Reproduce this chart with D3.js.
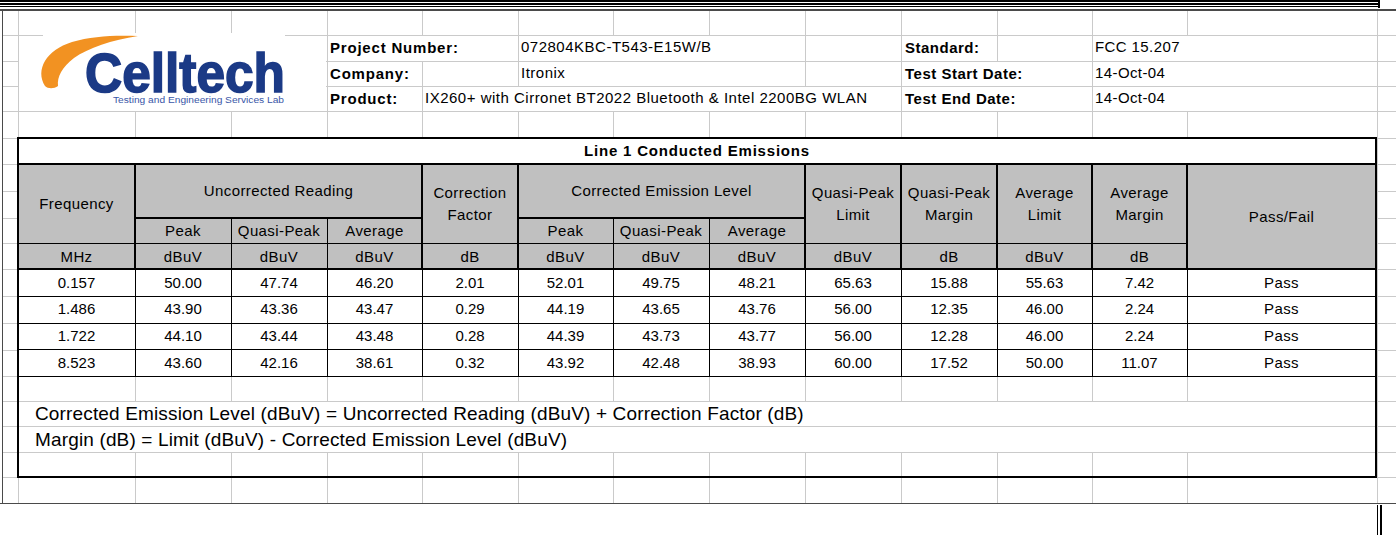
<!DOCTYPE html>
<html>
<head>
<meta charset="utf-8">
<script src="https://cdn.jsdelivr.net/npm/d3@7"></script>
<style>
  html, body { margin: 0; padding: 0; background: #fff; }
  svg { display: block; }
  text { font-family: Arial, 'Liberation Sans', sans-serif; fill: #000; }
</style>
</head>
<body>
<svg width="1396" height="535"></svg>
<script>
// ---- data ----
const frequency = [0.157, 1.486, 1.722, 8.523]
const uncorrPeak = [50.00, 43.90, 44.10, 43.60]
const uncorrQuasiPeak = [47.74, 43.36, 43.44, 42.16]
const uncorrAverage = [46.20, 43.47, 43.48, 38.61]
const correctionFactor = [2.01, 0.29, 0.28, 0.32]
const corrPeak = [52.01, 44.19, 44.39, 43.92]
const corrQuasiPeak = [49.75, 43.65, 43.73, 42.48]
const corrAverage = [48.21, 43.76, 43.77, 38.93]
const quasiPeakLimit = [65.63, 56.00, 56.00, 60.00]
const quasiPeakMargin = [15.88, 12.35, 12.28, 17.52]
const averageLimit = [55.63, 46.00, 46.00, 50.00]
const averageMargin = [7.42, 2.24, 2.24, 11.07]
const passFail = ['Pass', 'Pass', 'Pass', 'Pass']

const units = ['MHz', 'dBuV', 'dBuV', 'dBuV', 'dB', 'dBuV', 'dBuV', 'dBuV', 'dBuV', 'dB', 'dBuV', 'dB']
const subHeaders = ['Peak', 'Quasi-Peak', 'Average']

const infoLabelsLeft = ['Project Number:', 'Company:', 'Product:']
const infoValuesLeft = ['072804KBC-T543-E15W/B', 'Itronix', 'IX260+ with Cirronet BT2022 Bluetooth & Intel 2200BG WLAN']
const infoLabelsRight = ['Standard:', 'Test Start Date:', 'Test End Date:']
const infoValuesRight = ['FCC 15.207', '14-Oct-04', '14-Oct-04']

const tableTitle = 'Line 1 Conducted Emissions'
const formulas = [
  'Corrected Emission Level (dBuV) = Uncorrected Reading (dBuV) + Correction Factor (dB)',
  'Margin (dB) = Limit (dBuV) - Corrected Emission Level (dBuV)'
]

// ---- layout ----
const keys = ['freq', 'uPeak', 'uQp', 'uAvg', 'cf', 'cPeak', 'cQp', 'cAvg', 'qpLimit', 'qpMargin', 'avgLimit', 'avgMargin', 'pass']
const edges = [18, 135, 231, 327, 422, 518, 613, 709, 805, 901, 997, 1092, 1187, 1376]
const sheetCols = [18, 135, 231, 327, 422, 518, 613, 709, 805, 901, 997, 1092, 1187, 1377]
const sheetRows = [10, 35, 61, 86, 111, 138, 164, 191, 218, 243, 269, 296, 323, 350, 376, 401, 426, 452, 477, 503]

const x0 = d3.scaleOrdinal(keys, edges.slice(0, -1))
const x1 = d3.scaleOrdinal(keys, edges.slice(1))
const xc = k => (x0(k) + x1(k)) / 2

const y = d3.scaleBand().domain(d3.range(frequency.length)).range([269, 376])

const columns = [
  { key: 'freq', values: frequency, fmt: d3.format('.3f') },
  { key: 'uPeak', values: uncorrPeak, fmt: d3.format('.2f') },
  { key: 'uQp', values: uncorrQuasiPeak, fmt: d3.format('.2f') },
  { key: 'uAvg', values: uncorrAverage, fmt: d3.format('.2f') },
  { key: 'cf', values: correctionFactor, fmt: d3.format('.2f') },
  { key: 'cPeak', values: corrPeak, fmt: d3.format('.2f') },
  { key: 'cQp', values: corrQuasiPeak, fmt: d3.format('.2f') },
  { key: 'cAvg', values: corrAverage, fmt: d3.format('.2f') },
  { key: 'qpLimit', values: quasiPeakLimit, fmt: d3.format('.2f') },
  { key: 'qpMargin', values: quasiPeakMargin, fmt: d3.format('.2f') },
  { key: 'avgLimit', values: averageLimit, fmt: d3.format('.2f') },
  { key: 'avgMargin', values: averageMargin, fmt: d3.format('.2f') },
  { key: 'pass', values: passFail, fmt: d => d }
]

const svg = d3.select('svg')
const GRID = '#cacaca'

const line = (g, xa, ya, xb, yb, color, w) => g.append('line')
  .attr('x1', xa).attr('y1', ya).attr('x2', xb).attr('y2', yb)
  .attr('stroke', color).attr('stroke-width', w)

// ---- sheet grid ----
const grid = svg.append('g').attr('shape-rendering', 'crispEdges')

// horizontal rows in the info block and the bottom row
sheetRows.filter(r => r > 10 && r <= 138).forEach(r => line(grid, 2, r + 0.5, 1396, r + 0.5, GRID, 1))
sheetRows.filter(r => r > 138 && r < 503).forEach(r => {
  line(grid, 2, r + 0.5, 18, r + 0.5, GRID, 1)
  line(grid, 1377, r + 0.5, 1396, r + 0.5, GRID, 1)
})
line(grid, 2, 477.5, 1396, 477.5, GRID, 1)

// cells whose vertical line is hidden by overflowing text
const hidden = {
  35: [422, 613, 709, 1187],
  61: [613, 709, 997, 1187],
  86: [518, 613, 709, 805, 997, 1187]
}
sheetRows.slice(0, 5).forEach((r, i) => {
  const r2 = sheetRows[i + 1]
  sheetCols.forEach(c => {
    if ((hidden[r] || []).includes(c)) return
    line(grid, c + 0.5, r, c + 0.5, r2, GRID, 1)
  })
})
line(grid, 18.5, 138, 18.5, 503, GRID, 1)
line(grid, 1377.5, 138, 1377.5, 503, GRID, 1)
sheetCols.forEach(c => line(grid, c + 0.5, 477, c + 0.5, 503, GRID, 1))

// ---- page frame ----
const frame = svg.append('g').attr('shape-rendering', 'crispEdges')
;[1, 4, 6.5].forEach(yy => line(frame, 0, yy, 1380, yy, '#000', 1.3))
line(frame, 1379, 0, 1379, 8, '#000', 2)
line(frame, 0, 10, 1396, 10, '#4a4a4a', 1.5)
line(frame, 2.5, 10, 2.5, 503, '#4a4a4a', 1.5)
line(frame, 0, 503.5, 1396, 503.5, '#4a4a4a', 1.5)
line(frame, 1377.5, 505, 1377.5, 535, '#000', 1.5)
line(frame, 1381, 505, 1381, 535, '#000', 1.5)

// ---- logo ----
const logo = svg.append('g')
logo.append('rect').attr('x', 19).attr('y', 36).attr('width', 307).attr('height', 75).attr('fill', '#fff')
logo.append('rect').attr('x', 43).attr('y', 33).attr('width', 242).attr('height', 10).attr('fill', '#fff')
logo.append('path')
  .attr('d', 'M45,86 C35,70 46,50 72,42 C92,36 115,35 138,36 C112,40 88,48 74,58 C62,67 57,77 58,86 C54,89 48,89 45,86 Z')
  .attr('fill', '#f29222')
logo.append('text')
  .attr('x', 85).attr('y', 92)
  .attr('font-size', 55).attr('font-weight', 'bold')
  .attr('textLength', 200).attr('lengthAdjust', 'spacingAndGlyphs')
  .attr('stroke', '#1b3a86').attr('stroke-width', 1.6)
  .style('fill', '#1b3a86')
  .text('Celltech')
logo.append('text')
  .attr('x', 113).attr('y', 103)
  .attr('font-size', 8.5)
  .attr('textLength', 171).attr('lengthAdjust', 'spacingAndGlyphs')
  .style('fill', '#3a57a8')
  .text('Testing and Engineering Services Lab')

// ---- info block ----
const info = svg.append('g')
const infoRows = [48, 73.5, 98.5]
info.selectAll('.ll').data(infoLabelsLeft).enter().append('text')
  .attr('x', 330).attr('y', (d, i) => infoRows[i]).attr('dy', '0.35em')
  .attr('font-size', 15).attr('font-weight', 'bold').attr('letter-spacing', 0.8)
  .text(d => d)
info.selectAll('.lv').data(infoValuesLeft).enter().append('text')
  .attr('x', (d, i) => i === 2 ? 425 : 521).attr('y', (d, i) => infoRows[i] - 1).attr('dy', '0.35em')
  .attr('font-size', 15).attr('letter-spacing', 0.5)
  .text(d => d)
info.selectAll('.rl').data(infoLabelsRight).enter().append('text')
  .attr('x', 905).attr('y', (d, i) => infoRows[i]).attr('dy', '0.35em')
  .attr('font-size', 15).attr('font-weight', 'bold').attr('letter-spacing', 0.5)
  .text(d => d)
info.selectAll('.rv').data(infoValuesRight).enter().append('text')
  .attr('x', 1095).attr('y', (d, i) => infoRows[i] - 1).attr('dy', '0.35em')
  .attr('font-size', 15).attr('letter-spacing', 0.4)
  .text(d => d)

// ---- table ----
const table = svg.append('g')
const L = edges[0]
const R = edges[edges.length - 1]
table.append('rect').attr('x', L).attr('y', 138).attr('width', R - L).attr('height', 477 - 138).attr('fill', '#fff')
table.append('rect').attr('x', L).attr('y', 164).attr('width', R - L).attr('height', 269 - 164).attr('fill', '#c0c0c0')

const tl = table.append('g').attr('shape-rendering', 'crispEdges')

// empty rows inside the table keep the light sheet grid
;[401, 426, 452].forEach(r => line(tl, L, r + 0.5, R, r + 0.5, GRID, 1))
;[[376, 401], [452, 477]].forEach(([a, b]) => edges.slice(1, -1).forEach(c => line(tl, c + 0.5, a, c + 0.5, b, GRID, 1)))

// header rules
const groupEdges = [135, 422, 518, 805, 901, 997, 1092, 1187]
const subEdges = [231, 327, 613, 709]
line(tl, L, 243.5, 1187, 243.5, '#000', 1)
line(tl, 135, 218, 422, 218, '#000', 2)
line(tl, 518, 218, 805, 218, '#000', 2)
subEdges.forEach(c => line(tl, c + 0.5, 218, c + 0.5, 269, '#000', 1))
groupEdges.forEach(c => line(tl, c, 164, c, 269, '#000', 2))

// data rules
y.domain().forEach(i => line(tl, L, y(i) + y.bandwidth() + 0.5, R, y(i) + y.bandwidth() + 0.5, '#000', 1))
edges.slice(1, -1).forEach(c => line(tl, c + 0.5, 269, c + 0.5, 376, '#000', 1))

// heavy rules
line(tl, L, 164, R, 164, '#000', 2)
line(tl, L, 269, R, 269, '#000', 2)
line(tl, L - 1, 138, R + 1, 138, '#000', 2)
line(tl, L - 1, 477, R + 1, 477, '#000', 2)
line(tl, L, 138, L, 477, '#000', 2)
line(tl, R, 138, R, 477, '#000', 2)

// title
table.append('text')
  .attr('x', (L + R) / 2).attr('y', 151).attr('dy', '0.35em')
  .attr('text-anchor', 'middle')
  .attr('font-size', 15).attr('font-weight', 'bold').attr('letter-spacing', 0.8)
  .text(tableTitle)

const head = table.append('g').attr('font-size', 15).attr('letter-spacing', 0.4).attr('text-anchor', 'middle')
const centerText = (txt, cx, cy) => head.append('text').attr('x', cx).attr('y', cy).attr('dy', '0.35em').text(txt)

centerText('Frequency', xc('freq'), 203.5)
centerText('Uncorrected Reading', (x0('uPeak') + x1('uAvg')) / 2, 191)
centerText('Corrected Emission Level', (x0('cPeak') + x1('cAvg')) / 2, 191)
;[['cf', 'Correction', 'Factor'], ['qpLimit', 'Quasi-Peak', 'Limit'], ['qpMargin', 'Quasi-Peak', 'Margin'],
  ['avgLimit', 'Average', 'Limit'], ['avgMargin', 'Average', 'Margin']].forEach(([k, a, b]) => {
  centerText(a, xc(k), 192.5)
  centerText(b, xc(k), 214.5)
})
centerText('Pass/Fail', xc('pass'), 216.5)
;['uPeak', 'uQp', 'uAvg'].forEach((k, i) => centerText(subHeaders[i], xc(k), 231))
;['cPeak', 'cQp', 'cAvg'].forEach((k, i) => centerText(subHeaders[i], xc(k), 231))
units.forEach((u, i) => centerText(u, xc(keys[i]), 256.5))

// values
const body = table.append('g').attr('font-size', 15).attr('text-anchor', 'middle')
columns.forEach(col => {
  body.selectAll(null).data(col.values).enter().append('text')
    .attr('x', xc(col.key))
    .attr('y', (d, i) => y(i) + y.bandwidth() / 2)
    .attr('dy', '0.35em')
    .attr('letter-spacing', col.key === 'pass' ? 0.4 : 0)
    .text(d => col.fmt(d))
})

// formulas
table.selectAll('.formula').data(formulas).enter().append('text')
  .attr('x', 35)
  .attr('y', (d, i) => 413.5 + i * 25.5)
  .attr('dy', '0.35em')
  .attr('font-size', 19).attr('letter-spacing', 0.15)
  .text(d => d)
</script>
</body>
</html>
